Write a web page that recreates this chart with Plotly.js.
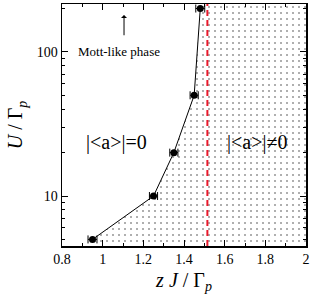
<!DOCTYPE html>
<html><head><meta charset="utf-8">
<script src="https://cdn.plot.ly/plotly-3.0.1.min.js"></script>
<style>html,body{margin:0;padding:0;background:#fff}</style>
</head><body>
<div id="plot" style="width:312px;height:297px"></div>
<script>
// Data
const zJ = [0.95, 1.25, 1.35, 1.45, 1.48];
const U = [5, 10, 20, 50, 200];
const zJerr = [0.022, 0.02, 0.02, 0.02, 0.022];
const criticalZJ = 1.515;
const xRange = [0.8, 2];
const yRange = [4.5, 215];
const xTicks = [0.8, 1, 1.2, 1.4, 1.6, 1.8, 2];
const xTickText = ['0.8', '1', '1.2', '1.4', '1.6', '1.8', '2'];
const xMinor = [0.9, 1.1, 1.3, 1.5, 1.7, 1.9];
const majorY = [10, 100];
const majorYText = ['10', '100'];
const minorY = [5, 6, 7, 8, 9, 20, 30, 40, 50, 60, 70, 80, 90, 200];

const serif = "'Liberation Serif', 'Times New Roman', serif";

// shaded (superfluid) region to the right of the curve
const shadeX = [zJ[0]].concat(zJ, [zJ[zJ.length-1], xRange[1], xRange[1]]);
const shadeY = [yRange[0]].concat(U, [yRange[1], yRange[1], yRange[0]]);

const traces = [
  {x: shadeX, y: shadeY, type: 'scatter', mode: 'lines', fill: 'toself',
   line: {width: 0, color: 'rgba(0,0,0,0)'}, fillcolor: 'white',
   fillpattern: {shape: '.', size: 6, solidity: 0.04, fgcolor: '#222', bgcolor: '#fff'},
   hoverinfo: 'skip', showlegend: false},
  {x: [criticalZJ, criticalZJ], y: yRange, type: 'scatter', mode: 'lines',
   line: {color: '#e8192c', width: 2, dash: '6px,4px'}, showlegend: false},
  {x: zJ, y: U, type: 'scatter', mode: 'lines+markers',
   line: {color: '#000', width: 1}, marker: {color: '#000', size: 7},
   error_x: {type: 'data', array: zJerr, visible: true, color: '#000', thickness: 1, width: 4},
   showlegend: false}
];

const lg = Math.log10;
const layout = {
  width: 312, height: 297,
  margin: {l: 62, r: 6, t: 4, b: 51},
  paper_bgcolor: '#fff', plot_bgcolor: '#fff',
  font: {family: serif, color: '#000', size: 14},
  xaxis: {range: xRange, tickvals: xTicks, ticktext: xTickText,
    ticks: 'inside', ticklen: 6, tickwidth: 1, tickcolor: '#000',
    minor: {tickvals: xMinor, ticks: 'inside', ticklen: 3, tickcolor: '#000'},
    showline: true, linecolor: '#000', linewidth: 1.5, mirror: 'ticks', showgrid: false, zeroline: false,
    tickfont: {size: 14, family: serif},
    title: {text: '<i>z J</i> / Γ<sub><i>p</i></sub>', font: {size: 20, family: serif}, standoff: 6}},
  yaxis: {type: 'log', range: [lg(yRange[0]), lg(yRange[1])], tickvals: majorY, ticktext: majorYText,
    ticks: 'inside', ticklen: 6, tickwidth: 1, tickcolor: '#000',
    minor: {tickvals: minorY, ticks: 'inside', ticklen: 3, tickcolor: '#000'},
    showline: true, linecolor: '#000', linewidth: 1.5, mirror: 'ticks', showgrid: false, zeroline: false,
    tickfont: {size: 14, family: serif},
    title: {text: '<i>U</i> / Γ<sub><i>p</i></sub>', font: {size: 20, family: serif}, standoff: 8}},
  annotations: [
    {x: 1.08, y: lg(100), text: 'Mott-like phase', showarrow: false, font: {size: 13, family: serif}},
    {x: 1.105, y: lg(180), ax: 1.105, ay: lg(113), axref: 'x', ayref: 'y', text: ' ', showarrow: true,
     arrowhead: 1, arrowsize: 1, arrowwidth: 1, arrowcolor: '#000'},
    {x: 1.07, y: lg(23.5), text: '|&lt;a&gt;|=0', showarrow: false, font: {size: 20, family: serif}},
    {x: 1.76, y: lg(23.5), text: '|&lt;a&gt;|≠0', showarrow: false, font: {size: 20, family: serif}}
  ]
};

Plotly.newPlot('plot', traces, layout, {displayModeBar: false, staticPlot: true});
</script>
</body></html>
